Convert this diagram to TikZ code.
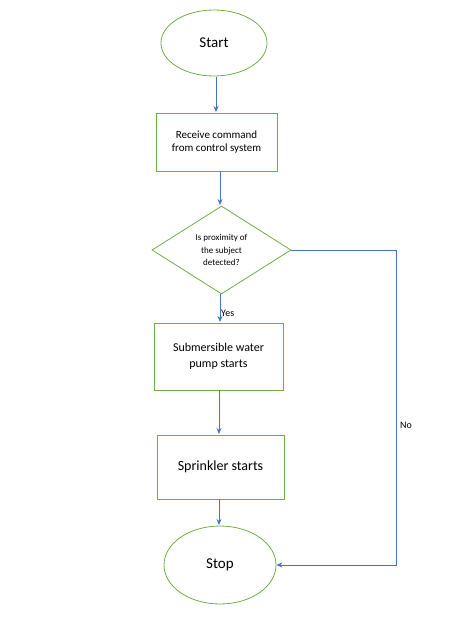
\documentclass[tikz,border=0pt]{standalone}
\usepackage{fontspec}
\setmainfont{Carlito}
\usetikzlibrary{shapes.geometric,arrows.meta}
\definecolor{ofgreen}{RGB}{112,173,71}
\definecolor{ofblue}{RGB}{68,114,196}
\tikzset{
  shp/.style={draw=ofgreen, line width=0.8pt, align=center, inner sep=0pt},
  boxn/.style={shp, rectangle},
  ovaln/.style={shp, ellipse},
  decn/.style={shp, diamond},
  conn/.style={draw=ofblue, line width=0.8pt, -{Stealth[length=6pt,width=5pt]}},
  lbl/.style={font=\fontsize{10}{12}\selectfont, inner sep=0pt}
}
\begin{document}
\begin{tikzpicture}[x=1pt,y=-1pt]
\useasboundingbox (0,0) rectangle (456,640);
\node[ovaln, minimum width=106pt, minimum height=66pt, font=\fontsize{15}{18}\selectfont] (start) at (214,43) {Start};
\node[boxn, minimum width=121pt, minimum height=58pt, font=\fontsize{11}{13.3}\selectfont] (recv) at (216.5,142) {Receive command\\from control system};
\node[decn, minimum width=139pt, minimum height=88pt, font=\fontsize{9}{12.5}\selectfont] (dec) at (221.5,250) {Is proximity of\\the subject\\detected?};
\node[boxn, minimum width=129pt, minimum height=67pt, font=\fontsize{12}{15.7}\selectfont] (pump) at (218.5,356.5) {Submersible water\\pump starts};
\node[boxn, minimum width=127pt, minimum height=64pt, font=\fontsize{14}{17}\selectfont] (spr) at (220.5,467) {Sprinkler starts};
\node[ovaln, minimum width=112pt, minimum height=78pt, font=\fontsize{15}{18}\selectfont] (stop) at (220,565) {Stop};
\coordinate (c1) at (396,250);
\coordinate (c2) at (396,565);
\draw[conn] (216,76.5) -- (216,112);
\draw[conn] (220,171) -- (220,205);
\draw[conn] (220,294) -- (220,322);
\draw[conn] (219,390) -- (219,434);
\draw[conn] (219,499) -- (219,525);
\draw[conn] (dec.east) -- (c1) -- (c2) -- (stop.east);
\node[lbl, anchor=west] (yes) at (221,313) {Yes};
\node[lbl, anchor=west] (no) at (400,425) {No};
\end{tikzpicture}
\end{document}
